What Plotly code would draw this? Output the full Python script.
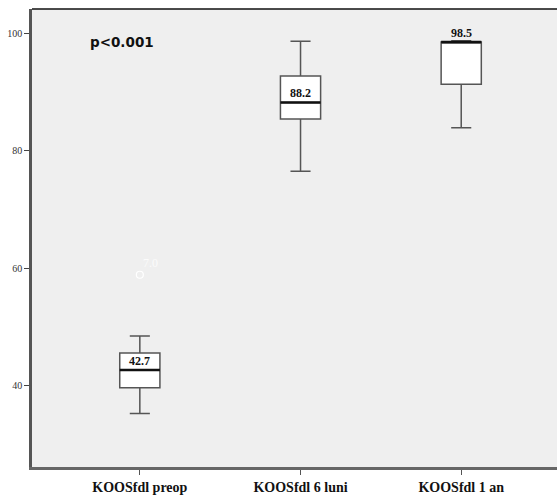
import plotly.graph_objects as go

# KOOS (function in daily living) scores at three time points
categories = ["KOOSfdl preop", "KOOSfdl 6 luni", "KOOSfdl 1 an"]
lower_whisker = [35.3, 76.5, 83.9]
q1_values = [39.7, 85.4, 91.3]
medians = [42.7, 88.2, 98.5]
q3_values = [45.6, 92.7, 98.5]
upper_whisker = [48.5, 98.6, 98.7]

# outlier points: (category index, value, case label)
outlier_cat = [0]
outlier_val = [58.9]
outlier_lbl = ["7.0"]

p_text = "p<0.001"

box_w = 0.25
fig = go.Figure()

for i, name in enumerate(categories):
    fig.add_trace(go.Box(
        x=[i],
        q1=[q1_values[i]], median=[medians[i]], q3=[q3_values[i]],
        lowerfence=[lower_whisker[i]], upperfence=[upper_whisker[i]],
        width=box_w, whiskerwidth=0.5,
        fillcolor="white",
        line=dict(color="#555555", width=1.5),
        boxpoints=False, showlegend=False, hoverinfo="skip",
    ))
    # heavier median line on top of the box
    fig.add_shape(type="line", xref="x", yref="y",
                  x0=i - box_w / 2, x1=i + box_w / 2,
                  y0=medians[i], y1=medians[i],
                  line=dict(color="#111111", width=2.5))
    fig.add_annotation(x=i, y=medians[i], xref="x", yref="y",
                       text=f"{medians[i]:.1f}", showarrow=False,
                       xanchor="center", yanchor="middle", yshift=9,
                       font=dict(family="Liberation Serif", size=12,
                                 color="#111111", weight="bold"))

fig.add_trace(go.Scatter(
    x=outlier_cat, y=outlier_val, mode="markers",
    marker=dict(symbol="circle-open", size=7, color="white",
                line=dict(color="white", width=1.2)),
    showlegend=False, hoverinfo="skip",
))
for c, v, lbl in zip(outlier_cat, outlier_val, outlier_lbl):
    fig.add_annotation(x=c, y=v, xref="x", yref="y", text=lbl,
                       showarrow=False, xanchor="center", yanchor="middle",
                       xshift=11, yshift=12,
                       font=dict(family="Liberation Serif", size=12,
                                 color="#fbfbfb"))

fig.add_annotation(x=0.171, y=0.928, xref="paper", yref="paper",
                   text=p_text, showarrow=False,
                   xanchor="center", yanchor="middle",
                   font=dict(family="DejaVu Sans", size=13.5,
                             color="#111111", weight="bold"))

# top frame line
fig.add_shape(type="line", xref="paper", yref="paper",
              x0=0, x1=1, y0=1, y1=1,
              line=dict(color="#111111", width=1.5))

fig.update_layout(
    width=557, height=497,
    margin=dict(l=32, r=0, t=9, b=30),
    paper_bgcolor="white",
    plot_bgcolor="#efefef",
    xaxis=dict(
        range=[-0.671, 2.596],
        tickvals=list(range(len(categories))), ticktext=categories,
        ticks="outside", ticklen=5, tickcolor="#555555", tickwidth=1.2,
        showline=True, linecolor="#666666", linewidth=2.5,
        showgrid=False, zeroline=False,
        tickfont=dict(family="Liberation Serif", size=14,
                      color="#111111", weight="bold"),
    ),
    yaxis=dict(
        range=[26.2, 104.1],
        tickvals=[40, 60, 80, 100],
        ticks="outside", ticklen=5, tickcolor="#444444", tickwidth=1.2,
        showline=True, linecolor="#555555", linewidth=2.5,
        showgrid=False, zeroline=False,
        tickfont=dict(family="Liberation Serif", size=10, color="#333333"),
    ),
)

fig.write_html("out.html")
